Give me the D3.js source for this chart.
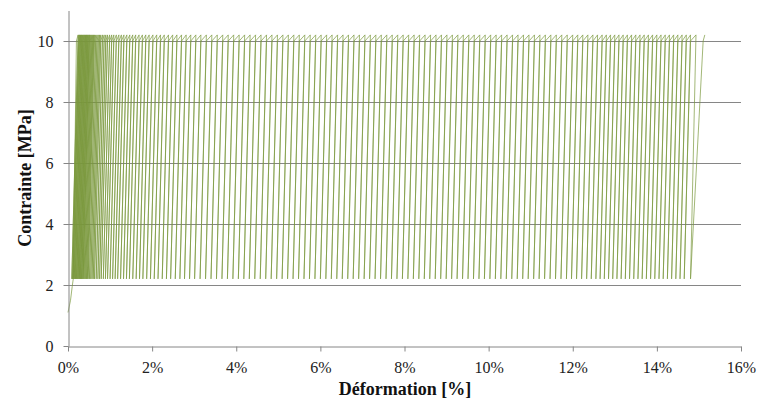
<!DOCTYPE html>
<html><head><meta charset="utf-8">
<script src="https://cdn.jsdelivr.net/npm/d3@7"></script>
<style>
body{margin:0;background:#fff}
</style>
</head><body>
<svg id="chart" width="761" height="401"></svg>
<script>
// ---- data ----
const xTicks = [0, 2, 4, 6, 8, 10, 12, 14, 16];
const yTicks = [0, 2, 4, 6, 8, 10];
const xTitle = "Déformation [%]";
const yTitle = "Contrainte [MPa]";

// first loading branch (strain %, stress MPa)
const initStrain = [0.00, 0.06, 0.10, 0.125];
const initStress = [1.1, 1.5, 1.95, 2.2];

// cyclic stress levels (MPa)
const stressKnee = 10.0;
const stressPeak = 10.2;
const stressValley = 2.2;

// per-cycle strains (%)
const kneeStrain = [
0.20,0.24,0.26,0.27,0.29,0.30,0.32,0.33,0.35,0.36,0.38,0.39,0.41,0.42,0.44,0.45,0.47,0.48,0.50,0.51,0.53,0.55,0.57,0.59,
0.61,0.63,0.66,0.69,0.72,0.75,0.78,0.82,0.86,0.90,0.94,0.99,1.04,1.09,1.15,1.21,1.27,1.33,1.40,1.47,1.54,1.61,1.69,1.77,1.85,1.93,2.02,2.11,2.20,2.29,2.39,2.49,2.59,2.70,2.81,2.92,
3.04,3.16,3.29,3.42,3.55,3.68,3.81,3.94,4.07,4.20,4.33,4.46,4.59,4.72,4.85,4.98,5.11,5.24,5.37,5.50,5.63,5.76,5.89,6.02,6.15,6.28,6.41,6.54,6.67,6.80,6.93,7.06,7.19,7.32,7.45,7.58,7.71,7.84,7.97,8.10,8.23,8.36,8.49,8.62,8.75,8.88,9.01,9.14,9.27,9.40,9.53,9.66,9.79,9.92,10.05,10.18,10.31,10.44,10.57,10.70,10.83,10.96,11.09,11.22,11.35,11.48,11.61,11.74,11.87,12.00,12.12,12.24,12.36,
12.48,12.59,12.70,12.80,12.90,13.00,13.10,13.20,13.30,13.40,13.50,13.60,13.70,13.80,13.90,14.00,14.10,14.20,14.30,14.40,14.50,14.60,14.70,14.80,15.10];

const peakStrain = [
0.24,0.26,0.27,0.29,0.30,0.32,0.33,0.35,0.36,0.38,0.39,0.41,0.42,0.44,0.45,0.47,0.48,0.50,0.51,0.53,0.55,0.57,0.59,0.61,
0.63,0.66,0.69,0.72,0.75,0.78,0.82,0.86,0.90,0.94,0.99,1.04,1.09,1.15,1.21,1.27,1.33,1.40,1.47,1.54,1.61,1.69,1.77,1.85,1.93,2.02,2.11,2.20,2.29,2.39,2.49,2.59,2.70,2.81,2.92,3.04,
3.16,3.29,3.42,3.55,3.68,3.81,3.94,4.07,4.20,4.33,4.46,4.59,4.72,4.85,4.98,5.11,5.24,5.37,5.50,5.63,5.76,5.89,6.02,6.15,6.28,6.41,6.54,6.67,6.80,6.93,7.06,7.19,7.32,7.45,7.58,7.71,7.84,7.97,8.10,8.23,8.36,8.49,8.62,8.75,8.88,9.01,9.14,9.27,9.40,9.53,9.66,9.79,9.92,10.05,10.18,10.31,10.44,10.57,10.70,10.83,10.96,11.09,11.22,11.35,11.48,11.61,11.74,11.87,12.00,12.12,12.24,12.36,12.48,
12.59,12.70,12.80,12.90,13.00,13.10,13.20,13.30,13.40,13.50,13.60,13.70,13.80,13.90,14.00,14.10,14.20,14.30,14.40,14.50,14.60,14.70,14.80,14.93,15.14];

const valleyStrain = [
0.09,0.11,0.12,0.14,0.15,0.17,0.18,0.20,0.21,0.23,0.24,0.26,0.27,0.29,0.30,0.32,0.33,0.35,0.36,0.38,0.40,0.42,0.44,0.46,
0.48,0.51,0.54,0.57,0.60,0.63,0.67,0.71,0.75,0.79,0.84,0.89,0.94,1.00,1.06,1.12,1.18,1.25,1.32,1.39,1.46,1.54,1.62,1.70,1.78,1.87,1.96,2.05,2.14,2.24,2.34,2.44,2.55,2.66,2.77,2.89,
3.01,3.14,3.27,3.40,3.53,3.66,3.79,3.92,4.05,4.18,4.31,4.44,4.57,4.70,4.83,4.96,5.09,5.22,5.35,5.48,5.61,5.74,5.87,6.00,6.13,6.26,6.39,6.52,6.65,6.78,6.91,7.04,7.17,7.30,7.43,7.56,7.69,7.82,7.95,8.08,8.21,8.34,8.47,8.60,8.73,8.86,8.99,9.12,9.25,9.38,9.51,9.64,9.77,9.90,10.03,10.16,10.29,10.42,10.55,10.68,10.81,10.94,11.07,11.20,11.33,11.46,11.59,11.72,11.85,11.97,12.09,12.21,12.33,
12.44,12.55,12.65,12.75,12.85,12.95,13.05,13.15,13.25,13.35,13.45,13.55,13.65,13.75,13.85,13.95,14.05,14.15,14.25,14.35,14.45,14.55,14.65,14.80];

// ---- chart ----
const FONT = "'Liberation Serif', 'Times New Roman', serif";
const svg = d3.select("#chart");
const x = d3.scaleLinear().domain([0, 16]).range([68, 741]);
const y = d3.scaleLinear().domain([0, 11]).range([346, 10.5]);
const axisColor = "#868686";

// gridlines
svg.append("g").selectAll("line").data(yTicks.filter(d => d > 0)).join("line")
  .attr("x1", x(0)).attr("x2", x(16))
  .attr("y1", d => Math.round(y(d)) + 0.5).attr("y2", d => Math.round(y(d)) + 0.5)
  .attr("stroke", axisColor).attr("stroke-width", 1);

// data path
const pts = initStrain.map((s, i) => [s, initStress[i]]);
peakStrain.forEach((p, k) => {
  pts.push([kneeStrain[k], stressKnee]);
  pts.push([p, stressPeak]);
  if (k < valleyStrain.length) pts.push([valleyStrain[k], stressValley]);
});
svg.append("path").datum(pts)
  .attr("d", d3.line().x(d => x(d[0])).y(d => y(d[1])))
  .attr("fill", "none").attr("stroke", "#7A983C").attr("stroke-width", 0.7)
  .attr("stroke-linejoin", "miter");

// axes
const gx = svg.append("g").attr("transform", `translate(0,${Math.round(y(0)) + 0.5})`)
  .call(d3.axisBottom(x).tickValues(xTicks).tickFormat(d => d + "%")
    .tickSize(5).tickSizeOuter(0).tickPadding(10));
const gy = svg.append("g").attr("transform", `translate(${Math.round(x(0)) + 0.5},0)`)
  .call(d3.axisLeft(y).tickValues(yTicks).tickSize(5).tickSizeOuter(0).tickPadding(10));
[gx, gy].forEach(g => {
  g.attr("font-family", null).attr("font-size", null);
  g.select(".domain").attr("stroke", axisColor);
  g.selectAll(".tick line").attr("stroke", axisColor);
  g.selectAll(".tick text").attr("fill", "#222")
    .style("font-family", FONT).style("font-size", "16px");
});

// titles
svg.append("text").attr("x", 405).attr("y", 395).attr("text-anchor", "middle")
  .style("font-family", FONT).style("font-size", "18px").style("font-weight", "bold")
  .attr("fill", "#111").text(xTitle);
svg.append("text").attr("transform", "translate(31,178) rotate(-90)").attr("text-anchor", "middle")
  .style("font-family", FONT).style("font-size", "18px").style("font-weight", "bold")
  .attr("fill", "#111").text(yTitle);
</script>
</body></html>
